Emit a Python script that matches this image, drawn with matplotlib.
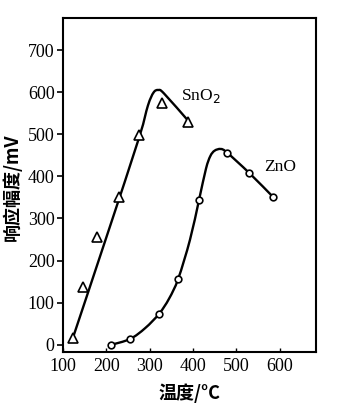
import matplotlib
matplotlib.use("Agg")
import matplotlib.pyplot as plt
from matplotlib.path import Path
from matplotlib.patches import PathPatch
import numpy as np

# Measured points
sno2_temp = [123, 146, 179, 229, 276, 329, 389]
sno2_resp = [17, 138, 256, 350, 499, 575, 530]
zno_temp = [211, 255, 322, 366, 414, 479, 530, 585]
zno_resp = [0, 14, 74, 157, 344, 456, 408, 351]

# Hand-fitted response curves (nodes along the drawn trend lines)
sno2_curve_x = [123, 200, 275, 296, 309, 320, 333, 389]
sno2_curve_y = [17, 255, 490, 568, 599, 605, 597, 532]
zno_curve_x = [211, 255, 290, 322, 345, 366, 393, 414, 430, 440, 450, 464, 478, 530, 585]
zno_curve_y = [0, 14, 40, 74, 110, 157, 249, 344, 418, 448, 461, 465, 457, 408, 351]

x_ticks = [100, 200, 300, 400, 500, 600]
y_ticks = [0, 100, 200, 300, 400, 500, 600, 700]

SERIF = ["Liberation Serif", "DejaVu Serif"]
CJK = ["Noto Sans CJK SC", "DejaVu Sans"]


def smooth_path(xs, ys):
    """Catmull-Rom spline through the nodes, expressed as cubic Bezier segments."""
    pts = np.column_stack([xs, ys]).astype(float)
    verts = [pts[0]]
    codes = [Path.MOVETO]
    n = len(pts)
    for i in range(n - 1):
        p0 = pts[i - 1] if i > 0 else pts[i]
        p1 = pts[i]
        p2 = pts[i + 1]
        p3 = pts[i + 2] if i + 2 < n else pts[i + 1]
        c1 = p1 + (p2 - p0) / 6.0
        c2 = p2 - (p3 - p1) / 6.0
        verts += [c1, c2, p2]
        codes += [Path.CURVE4] * 3
    return Path(verts, codes)


fig = plt.figure(figsize=(3.39, 4.04), dpi=100)
ax = fig.add_axes([63 / 339, (404 - 352) / 404, (316 - 63) / 339, (352 - 18) / 404])

ax.set_xlim(100, 684)
ax.set_ylim(-17, 776)

for cx, cy in [(sno2_curve_x, sno2_curve_y), (zno_curve_x, zno_curve_y)]:
    ax.add_patch(PathPatch(smooth_path(cx, cy), facecolor="none",
                           edgecolor="black", lw=1.7, capstyle="round",
                           joinstyle="round"))

ax.plot(sno2_temp, sno2_resp, linestyle="none", marker="^", markersize=7,
        markerfacecolor="white", markeredgecolor="black", markeredgewidth=1.2,
        zorder=3)
ax.plot(zno_temp, zno_resp, linestyle="none", marker="o", markersize=4.8,
        markerfacecolor="white", markeredgecolor="black", markeredgewidth=1.2,
        zorder=3)

ax.text(419, 591, "SnO$_2$", fontsize=12.5, family=SERIF, ha="center",
        va="center")
ax.text(601, 422, "ZnO", fontsize=12.5, family=SERIF, ha="center",
        va="center")

ax.set_xticks(x_ticks)
ax.set_yticks(y_ticks)
ax.set_xticklabels([str(v) for v in x_ticks], family=SERIF, fontsize=13)
ax.set_yticklabels([str(v) for v in y_ticks], family=SERIF, fontsize=13)
ax.tick_params(axis="x", direction="in", length=3, width=1, pad=4)
ax.tick_params(axis="y", direction="out", length=4, width=1.2, pad=2)

for s in ax.spines.values():
    s.set_linewidth(1.5)

fig.text(12 / 339, 1 - 187 / 404, "响应幅度/mV", rotation=90, ha="center",
         va="center", fontsize=13, family=CJK, fontweight="bold")
fig.text(190 / 339, 1 - 393 / 404, "温度/°C", ha="center", va="center",
         fontsize=13, family=CJK, fontweight="bold")

fig.savefig("out.png", dpi=100)
